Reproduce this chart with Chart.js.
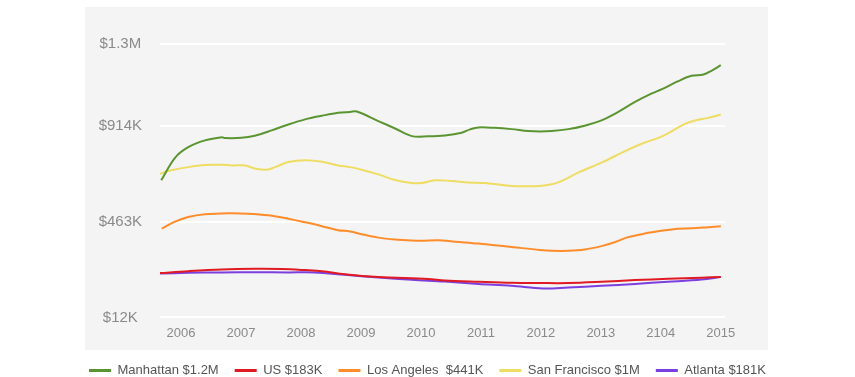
<!DOCTYPE html>
<html lang="en">
<head>
  <meta charset="UTF-8" />
  <title>Home Values by Market</title>
  <script src="https://cdn.jsdelivr.net/npm/chart.js"></script>
  <style>
    html, body { margin: 0; padding: 0; background: #fff; overflow: hidden; }
    #panel { position: absolute; left: 85px; top: 7px; width: 683px; height: 343px; background: #f4f4f4; }
    #wrap { position: absolute; left: 0; top: 0; width: 855px; height: 387px; }
  </style>
</head>
<body>
  <div id="panel"></div>
  <div id="wrap"><canvas id="homeChart" width="855" height="387"></canvas></div>

  <script>
    // tick labels (the "2104" typo is in the original)
    const xLabels = ['2006', '2007', '2008', '2009', '2010', '2011', '2012', '2013', '2104', '2015'];
    const xTicks = [2006, 2007, 2008, 2009, 2010, 2011, 2012, 2013, 2014, 2015];
    const yLabels = ['$12K', '$463K', '$914K', '$1.3M'];
    const yTicks = [12, 463, 914, 1300];

    const seriesNames = ['Manhattan $1.2M', 'US $183K', 'Los Angeles  $441K', 'San Francisco $1M', 'Atlanta $181K'];
    const seriesColors = ['#5b9532', '#e01a22', '#ff8c2a', '#efdc62', '#7b3fe0'];

    // [year, value in $K]
    const manhattan = [
      [2005.67, 658], [2005.9, 764], [2006.12, 814], [2006.4, 846], [2006.68, 861], [2006.73, 857],
      [2007.01, 858], [2007.23, 868], [2007.51, 893], [2007.79, 921], [2008.07, 945], [2008.35, 962],
      [2008.62, 976], [2008.82, 980], [2008.93, 982], [2009.29, 937], [2009.57, 902], [2009.85, 866],
      [2010.12, 865], [2010.4, 869], [2010.68, 882], [2010.82, 898], [2010.96, 907], [2011.23, 905],
      [2011.51, 899], [2011.79, 890], [2011.98, 888], [2012.18, 890], [2012.46, 899], [2012.73, 915],
      [2013.01, 940], [2013.29, 980], [2013.57, 1027], [2013.85, 1067], [2014.01, 1086], [2014.29, 1125],
      [2014.51, 1150], [2014.71, 1156], [2014.85, 1175], [2015, 1200]
    ];
    const us = [
      [2005.65, 221], [2006.12, 230], [2006.68, 238], [2007.23, 241], [2007.68, 240], [2008.07, 235],
      [2008.35, 230], [2008.73, 216], [2009.29, 203], [2010.12, 193], [2010.4, 186], [2010.96, 180],
      [2011.51, 175], [2011.98, 174], [2012.46, 174], [2013.01, 180], [2013.57, 188], [2014.12, 194],
      [2014.68, 199], [2015, 203]
    ];
    const losAngeles = [
      [2005.68, 430], [2005.9, 463], [2006.12, 485], [2006.4, 498], [2006.79, 503], [2007.12, 501],
      [2007.46, 493], [2007.79, 477], [2008.07, 460], [2008.35, 442], [2008.62, 423], [2008.82, 417],
      [2009.01, 404], [2009.29, 388], [2009.57, 379], [2009.85, 374], [2010.01, 373], [2010.29, 376],
      [2010.57, 369], [2010.96, 360], [2011.23, 352], [2011.51, 344], [2011.98, 330], [2012.18, 326],
      [2012.46, 326], [2012.73, 332], [2013.01, 348], [2013.23, 366], [2013.43, 388], [2013.73, 407],
      [2014.01, 420], [2014.29, 430], [2014.51, 432], [2014.79, 437], [2015, 441]
    ];
    const sanFrancisco = [
      [2005.65, 689], [2005.84, 705], [2006.12, 720], [2006.4, 730], [2006.68, 731], [2006.85, 728],
      [2007.07, 728], [2007.23, 714], [2007.43, 708], [2007.57, 720], [2007.79, 744], [2008.07, 752],
      [2008.35, 745], [2008.62, 728], [2008.82, 720], [2009.01, 708], [2009.29, 686], [2009.57, 659],
      [2009.85, 645], [2010.01, 645], [2010.23, 658], [2010.51, 655], [2010.79, 648], [2011.07, 645],
      [2011.35, 636], [2011.62, 630], [2011.98, 631], [2012.18, 639], [2012.35, 655], [2012.62, 694],
      [2013.01, 741], [2013.35, 788], [2013.68, 830], [2013.96, 858], [2014.12, 879], [2014.4, 924],
      [2014.57, 940], [2014.79, 952], [2015, 968]
    ];
    const atlanta = [
      [2005.65, 219], [2006.12, 222], [2006.68, 224], [2007.23, 225], [2007.79, 224], [2008.23, 224],
      [2008.73, 213], [2009.29, 200], [2009.85, 189], [2010.4, 181], [2010.96, 170], [2011.51, 161],
      [2012.04, 148], [2012.46, 153], [2013.01, 161], [2013.57, 170], [2014.12, 180], [2014.68, 191],
      [2015, 202]
    ];

    const allSeries = [manhattan, us, losAngeles, sanFrancisco, atlanta];

    const datasets = allSeries.map((pts, i) => ({
      label: seriesNames[i],
      data: pts.map(([x, y]) => ({ x: x, y: y })),
      borderColor: seriesColors[i],
      backgroundColor: seriesColors[i],
      borderWidth: 2,
      pointRadius: 0,
      tension: 0.35,
      fill: false
    }));

    const tickColor = '#8a8a8a';
    const fontFamily = "'Liberation Sans', Arial, Helvetica, sans-serif";

    new Chart(document.getElementById('homeChart').getContext('2d'), {
      type: 'line',
      data: { datasets: datasets },
      options: {
        responsive: false,
        animation: false,
        layout: { padding: { top: 17, left: 0, right: 0, bottom: 0 } },
        plugins: {
          tooltip: { enabled: false },
          legend: {
            position: 'bottom',
            labels: {
              color: '#555',
              font: { family: fontFamily, size: 13 },
              boxWidth: 22,
              boxHeight: 3,
              padding: 16,
              generateLabels(chart) {
                const items = Chart.defaults.plugins.legend.labels.generateLabels(chart);
                items.forEach(it => { it.lineWidth = 0; });
                return items;
              }
            }
          }
        },
        scales: {
          x: {
            type: 'linear',
            min: 2005.65,
            max: 2015.07,
            grid: { display: false, drawTicks: false },
            border: { display: false },
            afterBuildTicks(scale) { scale.ticks = xTicks.map(v => ({ value: v })); },
            afterFit(scale) { scale.height = 28; },
            ticks: {
              color: tickColor,
              font: { family: fontFamily, size: 13 },
              padding: 6,
              autoSkip: false,
              maxRotation: 0,
              callback: (v, i) => xLabels[i]
            }
          },
          y: {
            type: 'linear',
            min: 0,
            max: 1380,
            grid: { color: '#ffffff', lineWidth: 2, drawTicks: false },
            border: { display: false },
            afterBuildTicks(scale) { scale.ticks = yTicks.map(v => ({ value: v })); },
            afterFit(scale) { scale.width = 160; },
            ticks: {
              color: tickColor,
              font: { family: fontFamily, size: 15 },
              padding: 18,
              crossAlign: 'center',
              callback: (v, i) => yLabels[i]
            }
          },
          yRight: {
            position: 'right',
            grid: { display: false },
            border: { display: false },
            ticks: { display: false },
            afterFit(scale) { scale.width = 130; }
          }
        }
      }
    });
  </script>
</body>
</html>
